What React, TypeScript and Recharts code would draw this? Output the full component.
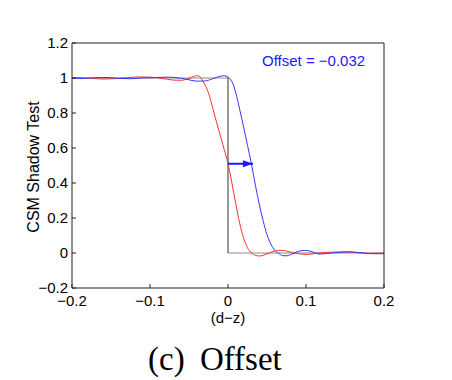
import { LineChart, Line, XAxis, YAxis } from "recharts";

const FONT = "'Liberation Sans', Arial, Helvetica, sans-serif";
const SERIF = "'Liberation Serif', 'Times New Roman', serif";

const X_TICKS = [-0.2, -0.1, 0, 0.1, 0.2];
const Y_TICKS = [-0.2, 0, 0.2, 0.4, 0.6, 0.8, 1, 1.2];

// ideal step (d-z < 0 lit, else shadowed)
const STEP_TOP_X = [-0.2, 0];
const STEP_TOP_Y = [1, 1];
const STEP_BOTTOM_X = [0, 0.2];
const STEP_BOTTOM_Y = [0, 0];
const STEP_EDGE_X = [0, 0];
const STEP_EDGE_Y = [0, 1];

// CSM reconstruction, no offset
const RED_X = [-0.2, -0.19, -0.175, -0.16, -0.145, -0.13, -0.115, -0.1, -0.085, -0.07, -0.06, -0.05, -0.043, -0.038, -0.034, -0.03, -0.025, -0.02, -0.015, -0.01, -0.005, 0, 0.005, 0.01, 0.015, 0.02, 0.025, 0.03, 0.035, 0.04, 0.045, 0.05, 0.055, 0.06, 0.065, 0.07, 0.075, 0.085, 0.1, 0.11, 0.12, 0.135, 0.15, 0.165, 0.18, 0.2];
const RED_Y = [1.0, 1.002, 0.998, 0.994, 0.996, 1.002, 1.006, 1.005, 0.998, 0.988, 0.987, 0.998, 1.01, 1.013, 0.995, 0.965, 0.915, 0.835, 0.753, 0.673, 0.593, 0.513, 0.4, 0.28, 0.17, 0.085, 0.03, 0.0, -0.013, -0.017, -0.013, -0.005, 0.004, 0.011, 0.015, 0.015, 0.011, 0.0, -0.008, -0.004, 0.002, 0.005, 0.006, 0.002, -0.002, 0.0];

// CSM reconstruction with offset applied
const BLUE_X = [-0.2, -0.185, -0.17, -0.155, -0.14, -0.125, -0.11, -0.095, -0.076, -0.06, -0.05, -0.04, -0.03, -0.02, -0.01, -0.005, 0, 0.005, 0.01, 0.015, 0.02, 0.025, 0.03, 0.035, 0.04, 0.045, 0.05, 0.055, 0.06, 0.065, 0.07, 0.075, 0.08, 0.085, 0.09, 0.098, 0.105, 0.11, 0.117, 0.125, 0.135, 0.145, 0.156, 0.165, 0.175, 0.185, 0.2];
const BLUE_Y = [1.0, 0.997, 1.002, 1.003, 0.998, 0.996, 1.0, 1.002, 1.005, 0.998, 0.99, 0.982, 0.983, 0.995, 1.01, 1.013, 1.005, 0.98, 0.915, 0.82, 0.72, 0.615, 0.51, 0.39, 0.28, 0.185, 0.105, 0.05, 0.015, -0.002, -0.015, -0.016, -0.01, 0.0, 0.009, 0.015, 0.011, 0.004, -0.006, -0.004, 0.001, 0.005, 0.007, 0.004, -0.001, -0.004, -0.004];

const ARROW_X = [0, 0.032];
const ARROW_Y = [0.51, 0.51];

const OFFSET_LABEL = "Offset = \u22120.032";

const pts = (xs: number[], ys: number[]) => xs.map((x, i) => ({ x, y: ys[i] }));
const fmt = (v: number) => String(Math.round(v * 10) / 10).replace("-", "\u2212");

const AXIS = "#222";

// eslint-disable-next-line @typescript-eslint/no-explicit-any
const ArrowHead = (props: any) => {
  const { cx, cy, index } = props;
  if (index !== ARROW_X.length - 1) return <g key={`a${index}`} />;
  return (
    <path
      key={`a${index}`}
      d={`M${cx},${cy} L${cx - 10},${cy - 3.5} L${cx - 10},${cy + 3.5} Z`}
      fill="#1a1aff"
    />
  );
};

export default function App() {
  const tick = { fill: "#000", fontSize: 15, fontFamily: FONT };
  return (
    <div style={{ position: "absolute", left: 0, top: 0, width: 452, height: 380, background: "#fff" }}>
      <LineChart width={452} height={380} margin={{ top: 42, right: 67, bottom: 62, left: 32 }}>
        <XAxis
          type="number" dataKey="x" domain={[-0.2, 0.2]} ticks={X_TICKS} allowDataOverflow
          tickFormatter={fmt} tick={tick} tickSize={-4} tickMargin={11} height={30}
          axisLine={{ stroke: AXIS }} tickLine={{ stroke: AXIS }}
        />
        <XAxis
          xAxisId="top" orientation="top" type="number" dataKey="x" domain={[-0.2, 0.2]} ticks={X_TICKS}
          tick={false} tickSize={-4} height={1} axisLine={{ stroke: AXIS }} tickLine={{ stroke: AXIS }}
        />
        <YAxis
          type="number" domain={[-0.2, 1.2]} ticks={Y_TICKS} allowDataOverflow
          tickFormatter={fmt} tick={tick} tickSize={-4} tickMargin={8} width={40}
          axisLine={{ stroke: AXIS }} tickLine={{ stroke: AXIS }}
        />
        <YAxis
          yAxisId="right" orientation="right" type="number" domain={[-0.2, 1.2]} ticks={Y_TICKS}
          tick={false} tickSize={-4} width={1} axisLine={{ stroke: AXIS }} tickLine={{ stroke: AXIS }}
        />
        <Line data={pts(STEP_TOP_X, STEP_TOP_Y)} dataKey="y" type="linear" stroke="#8c8c8c" strokeWidth={1} dot={false} activeDot={false} isAnimationActive={false} />
        <Line data={pts(STEP_BOTTOM_X, STEP_BOTTOM_Y)} dataKey="y" type="linear" stroke="#8c8c8c" strokeWidth={1} dot={false} activeDot={false} isAnimationActive={false} />
        <Line data={pts(STEP_EDGE_X, STEP_EDGE_Y)} dataKey="y" type="linear" stroke="#333" strokeWidth={1} dot={false} activeDot={false} isAnimationActive={false} />
        <Line data={pts(RED_X, RED_Y)} dataKey="y" type="monotone" stroke="#ff3030" strokeWidth={1} dot={false} activeDot={false} isAnimationActive={false} />
        <Line data={pts(BLUE_X, BLUE_Y)} dataKey="y" type="monotone" stroke="#3535ff" strokeWidth={1} dot={false} activeDot={false} isAnimationActive={false} />
        <Line data={pts(ARROW_X, ARROW_Y)} dataKey="y" type="linear" stroke="#1a1aff" strokeWidth={2} dot={ArrowHead} activeDot={false} isAnimationActive={false} />
      </LineChart>
      <svg width={452} height={380} style={{ position: "absolute", left: 0, top: 0, pointerEvents: "none" }}>
        <text x={262} y={65.5} fill="#2020ff" fontSize={15} fontFamily={FONT}>{OFFSET_LABEL}</text>
        <text x={228} y={322.5} textAnchor="middle" fill="#000" fontSize={15} fontFamily={FONT}>(d{"\u2212"}z)</text>
        <text x={38.5} y={167} textAnchor="middle" fill="#000" fontSize={16} fontFamily={FONT} transform="rotate(-90 38.5 167)">CSM Shadow Test</text>
        <text x={148} y={370} fill="#000" fontSize={33} fontFamily={SERIF} wordSpacing={7}>(c) Offset</text>
      </svg>
    </div>
  );
}
